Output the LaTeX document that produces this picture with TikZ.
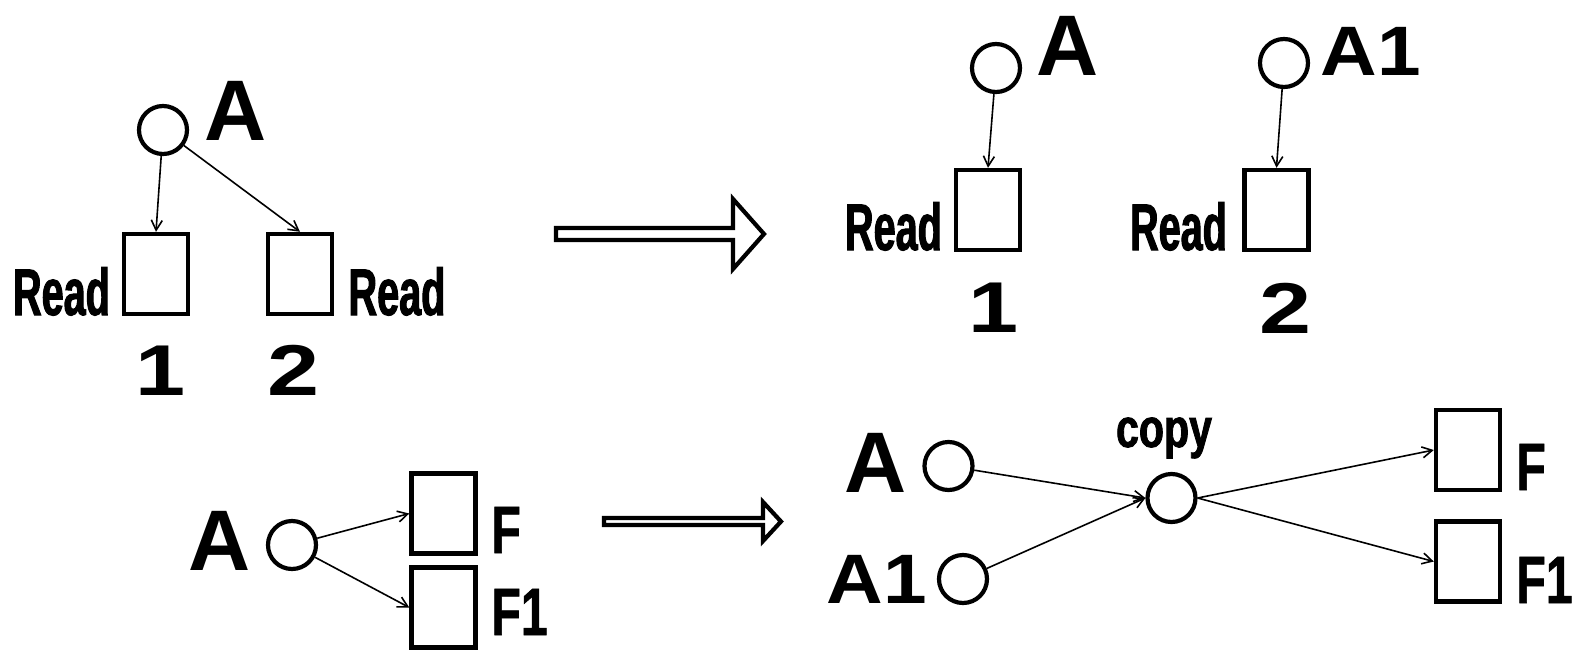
\documentclass[tikz,border=0pt]{standalone}
\usepackage{fontspec}
\usepackage{graphicx}
\setmainfont{Liberation Sans}
\newfontfamily\condf{Liberation Sans}[FakeStretch=0.6,FakeBold=1.5]
\newfontfamily\condg{Liberation Sans}[FakeStretch=0.72,FakeBold=1]
\newfontfamily\condc{Liberation Sans}[FakeStretch=0.75,FakeBold=1.5]
\usetikzlibrary{arrows.meta}
\tikzset{
  circ/.style={circle,draw,line width=2.1pt,minimum size=24pt,inner sep=0pt},
  rbox/.style={rectangle,draw,line width=2.2pt,minimum width=32pt,minimum height=40pt,inner sep=0pt},
  lab/.style={inner sep=0pt,anchor=base},
  labw/.style={inner sep=0pt,anchor=base west},
  bigf/.style={font=\fontsize{43}{43}\selectfont\bfseries},
  midf/.style={font=\fontsize{35}{35}\selectfont\bfseries},
  numf/.style={font=\fontsize{36}{36}\selectfont\bfseries},
  ff/.style={font=\fontsize{33.5}{33.5}\condg\bfseries},
  readf/.style={font=\fontsize{33}{33}\condf\bfseries},
  copyf/.style={font=\fontsize{27.4}{27.4}\condc\bfseries},
  conn/.style={line width=0.8pt,-{Straight Barb[length=5pt,width=5.5pt]}},
  hollow/.style={draw,line width=2.1pt,line join=miter,fill=white},
}
\begin{document}
\begin{tikzpicture}[x=0.5pt,y=-0.5pt]
\useasboundingbox (0,0) rectangle (1576,649);
% ---------- top left ----------
\node[circ] (tlA) at (163,130) {};
\node[lab,bigf] (tlAl) at (235.5,140) {A};
\node[rbox] (tl1) at (156,274) {};
\node[rbox] (tl2) at (300,274) {};
\node[lab,readf] (tlr1) at (61.5,315) {Read};
\node[lab,readf] (tlr2) at (397,315) {Read};
\node[lab,numf] (tln1) at (161,395) {\scalebox{1.25}[1]{1}};
\node[lab,numf] (tln2) at (293.5,395) {\scalebox{1.3}[1]{2}};
\draw[conn] (tlA) -- (tl1.north);
\draw[conn] (tlA) -- (tl2.north);
% ---------- top arrow ----------
\draw[hollow] (556,228) -- (733,228) -- (733,199) -- (764,234) -- (733,269) -- (733,240) -- (556,240) -- cycle;
% ---------- top right ----------
\node[circ] (trA) at (996,68) {};
\node[lab,bigf] (trAl) at (1067.5,75) {A};
\node[circ] (trA1) at (1284,63) {};
\node[lab,midf] (trA1l) at (1371,75) {\scalebox{1.12}[1]{A1}};
\node[rbox] (tr1) at (988,210) {};
\node[rbox] (tr2) at (1276.5,210) {};
\node[lab,readf] (trr1) at (893.5,250) {Read};
\node[lab,readf] (trr2) at (1178.5,250) {Read};
\node[lab,numf] (trn1) at (993.5,332) {\scalebox{1.25}[1]{1}};
\node[lab,numf] (trn2) at (1286,333) {\scalebox{1.3}[1]{2}};
\draw[conn] (trA) -- (tr1.north);
\draw[conn] (trA1) -- (tr2.north);
% ---------- bottom left ----------
\node[lab,bigf] (blAl) at (220,570) {A};
\node[circ] (blA) at (292,545) {};
\node[rbox] (blF) at (443.5,513.5) {};
\node[rbox] (blF1) at (443.5,607.5) {};
\node[labw,ff] (blFl) at (491,553) {F};
\node[labw,ff] (blF1l) at (491,635) {F1};
\draw[conn] (blA) -- (blF.west);
\draw[conn] (blA) -- (blF1.west);
% ---------- bottom arrow ----------
\draw[hollow] (604,518) -- (763,518) -- (763,502) -- (781,521.5) -- (763,541) -- (763,525) -- (604,525) -- cycle;
% ---------- bottom right ----------
\node[lab,bigf] (brAl) at (875.5,492) {A};
\node[circ] (brA) at (948.5,466) {};
\node[lab,midf] (brA1l) at (877,603) {\scalebox{1.12}[1]{A1}};
\node[circ] (brA1) at (963,579) {};
\node[circ] (cp) at (1171.5,498) {};
\node[lab,copyf] (cpl) at (1164,447) {copy};
\node[rbox] (brF) at (1468,450) {};
\node[rbox] (brF1) at (1468,561.5) {};
\node[labw,ff] (brFl) at (1516,490) {F};
\node[labw,ff] (brF1l) at (1516,603) {F1};
\draw[conn] (brA) -- (cp.west);
\draw[conn] (brA1) -- (cp.west);
\draw[conn] (cp.east) -- (brF.west);
\draw[conn] (cp.east) -- (brF1.west);
\end{tikzpicture}
\end{document}
